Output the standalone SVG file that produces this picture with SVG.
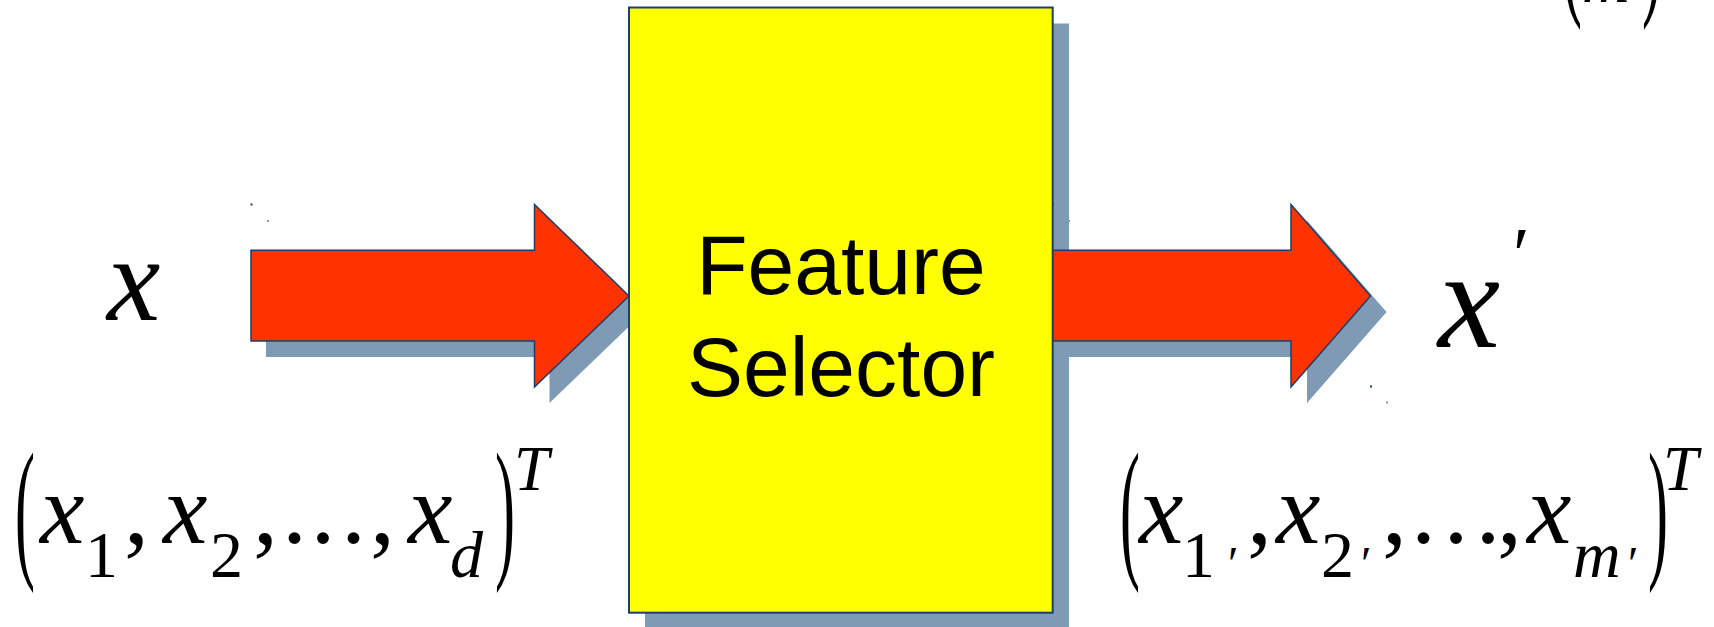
<svg xmlns="http://www.w3.org/2000/svg" width="1714" height="627" viewBox="0 0 1714 627">
  <style>
    .shadow { fill: #7f9ab4; }
    .arrow { fill: #ff3300; stroke: #1c3f6e; stroke-width: 1.5; stroke-linejoin: miter; }
    .box { fill: #ffff00; stroke: #1c3f6e; stroke-width: 2; }
    .label { font-family: "Liberation Sans", Arial, sans-serif; font-size: 84px; fill: #000; text-anchor: middle; }
    .math { font-family: "Liberation Serif", "Times New Roman", serif; fill: #000; }
    .it { font-style: italic; }
    .prime { font-family: "Liberation Serif", "Times New Roman", serif; font-size: 48px; fill: #000; }
    .dotN { fill: #1c3f6e; }
    .dotG { fill: #7f9ab4; }
  </style>

  <rect width="1714" height="627" fill="#ffffff"/>

  <!-- arrows between input, selector and output -->
  <g id="connectors">
    <g id="arrow-in">
      <polygon class="shadow" points="266,266.3 549.5,266.3 549.5,220.4 644,312 549.5,403 549.5,357 266,357"/>
      <polygon class="arrow" points="251,250.3 534.5,250.3 534.5,204.4 629,296 534.5,387 534.5,341 251,341"/>
      <rect class="dotN" x="250.5" y="203.5" width="2" height="2"/>
      <rect class="dotG" x="267" y="220" width="2" height="2"/>
    </g>
  </g>

  <!-- selector block -->
  <g id="feature-selector">
    <rect class="shadow" x="645" y="23.5" width="424" height="606"/>
    <rect class="box" x="629" y="7.5" width="423.7" height="605.2"/>
    <text class="label" x="841" y="294">Feature</text>
    <text class="label" x="841" y="396">Selector</text>
  </g>

  <g id="connectors-out">
    <g id="arrow-out">
      <polygon class="shadow" points="1069,266.3 1307,266.3 1307,220.4 1386.5,312 1307,403 1307,357 1069,357"/>
      <polygon class="arrow" points="1053,250.3 1291,250.3 1291,204.4 1370.5,296 1291,387 1291,341 1053,341"/>
      <rect class="dotN" x="1052" y="203.5" width="2" height="2"/>
      <rect class="dotG" x="1068" y="220" width="2" height="2"/>
      <rect class="dotN" x="1370" y="385.5" width="2" height="2"/>
      <rect class="dotG" x="1386" y="401.5" width="2" height="2"/>
    </g>
  </g>

  <!-- input vector -->
  <g id="input">
    <text class="math it" x="107" y="320" font-size="120">x</text>
    <g font-size="100" class="math">
      <text transform="translate(15,559.7) scale(1,2.585)" font-size="60">(</text>
      <text class="it" x="40" y="543">x</text>
      <text x="85" y="576.7" font-size="66">1</text>
      <text x="124" y="543">,</text>
      <text class="it" x="163" y="543">x</text>
      <text x="210" y="576.7" font-size="66">2</text>
      <text x="253" y="543">,</text>
      <text x="282" y="543">.</text>
      <text x="310.5" y="543">.</text>
      <text x="341" y="543">.</text>
      <text x="370" y="543">,</text>
      <text class="it" x="408" y="543">x</text>
      <text class="it" x="450" y="576.7" font-size="66">d</text>
      <text transform="translate(495,559.7) scale(1,2.585)" font-size="60">)</text>
      <text class="it" x="514" y="490" font-size="63">T</text>
    </g>
  </g>

  <!-- output vector -->
  <g id="output">
    <text class="math it" x="1438" y="346.7" font-size="140">x</text>
    <text class="math" x="1513" y="280" font-size="76">′</text>
    <g font-size="100" class="math">
      <text transform="translate(1120,559.7) scale(1,2.585)" font-size="60">(</text>
      <text class="it" x="1139" y="543">x</text>
      <text x="1182" y="576.7" font-size="66">1</text>
      <text class="prime" x="1228" y="580">′</text>
      <text x="1247" y="543">,</text>
      <text class="it" x="1276" y="543">x</text>
      <text x="1321" y="576.7" font-size="66">2</text>
      <text class="prime" x="1361" y="580">′</text>
      <text x="1382" y="543">,</text>
      <text x="1411" y="543">.</text>
      <text x="1443.5" y="543">.</text>
      <text x="1475.5" y="543">.</text>
      <text x="1497" y="543">,</text>
      <text class="it" x="1527" y="543">x</text>
      <text class="it" x="1573" y="576.7" font-size="66">m</text>
      <text class="prime" x="1628" y="580">′</text>
      <text transform="translate(1648,559.7) scale(1,2.585)" font-size="60">)</text>
      <text class="it" x="1663" y="490" font-size="63">T</text>
    </g>
  </g>

  <!-- dimension term at the top edge -->
  <g id="dimension">
    <g class="math" font-size="60">
      <text transform="translate(1562,-2.6) scale(1,2.585)">(</text>
      <text class="it" x="1582" y="2" font-size="66">m</text>
      <text transform="translate(1642,-2.6) scale(1,2.585)">)</text>
    </g>
  </g>
</svg>
